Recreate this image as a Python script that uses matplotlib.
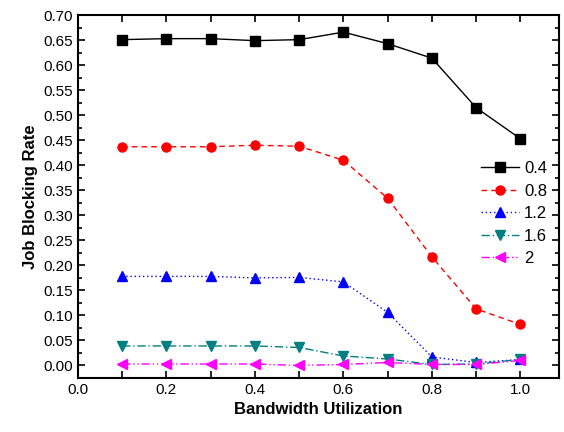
import matplotlib
matplotlib.use('Agg')
import matplotlib.pyplot as plt
from matplotlib.ticker import MultipleLocator

plt.rcParams['font.family'] = ['Liberation Sans', 'DejaVu Sans']

utilization = [0.1, 0.2, 0.3, 0.4, 0.5, 0.6, 0.7, 0.8, 0.9, 1.0]
labels = ['0.4', '0.8', '1.2', '1.6', '2']
rate_04 = [0.651, 0.653, 0.653, 0.649, 0.651, 0.666, 0.643, 0.614, 0.515, 0.453]
rate_08 = [0.437, 0.437, 0.437, 0.440, 0.438, 0.410, 0.334, 0.217, 0.113, 0.082]
rate_12 = [0.178, 0.178, 0.178, 0.175, 0.176, 0.167, 0.106, 0.017, 0.006, 0.012]
rate_16 = [0.039, 0.039, 0.039, 0.039, 0.036, 0.019, 0.013, 0.002, 0.003, 0.012]
rate_20 = [0.003, 0.003, 0.003, 0.003, 0.000, 0.002, 0.006, 0.002, 0.002, 0.010]

series = [rate_04, rate_08, rate_12, rate_16, rate_20]
colors = ['black', 'red', 'blue', '#008080', 'magenta']
markers = ['s', 'o', '^', 'v', '<']
styles = ['-', (0, (4, 3)), (0, (1, 2)), (0, (6, 2, 1, 2)), (0, (6, 2, 1, 2, 1, 2))]

fig = plt.figure(figsize=(5.64, 4.32), dpi=100)
ax = fig.add_axes([0.138, 0.125, 0.853, 0.840])

for ys, lab, c, m, ls in zip(series, labels, colors, markers, styles):
    ax.plot(utilization, ys, color=c, marker=m, linestyle=ls, linewidth=1,
            markersize=6.5, label=lab)

ax.set_xlim(0, 1.087)
ax.set_ylim(-0.025, 0.70)
ax.xaxis.set_major_locator(MultipleLocator(0.2))
ax.xaxis.set_minor_locator(MultipleLocator(0.1))
ax.yaxis.set_major_locator(MultipleLocator(0.05))
ax.yaxis.set_minor_locator(MultipleLocator(0.025))
ax.xaxis.set_major_formatter(plt.FormatStrFormatter('%.1f'))
ax.yaxis.set_major_formatter(plt.FormatStrFormatter('%.2f'))
ax.tick_params(which='both', direction='in', top=True, right=True, labelsize=11, width=1.2)
ax.tick_params(which='major', length=5)
ax.tick_params(axis='x', which='minor', length=5)
ax.tick_params(axis='y', which='minor', length=3)
for sp in ax.spines.values():
    sp.set_linewidth(1.5)

ax.set_xlabel('Bandwidth Utilization', fontsize=12, fontweight='bold')
ax.set_ylabel('Job Blocking Rate', fontsize=12, fontweight='bold')

ax.legend(loc='upper right', bbox_to_anchor=(1.0, 0.63), frameon=False,
          fontsize=12, handlelength=2.3, labelspacing=0.45, handletextpad=0.3,
          borderaxespad=0.3)

fig.savefig('out.png', dpi=100)
